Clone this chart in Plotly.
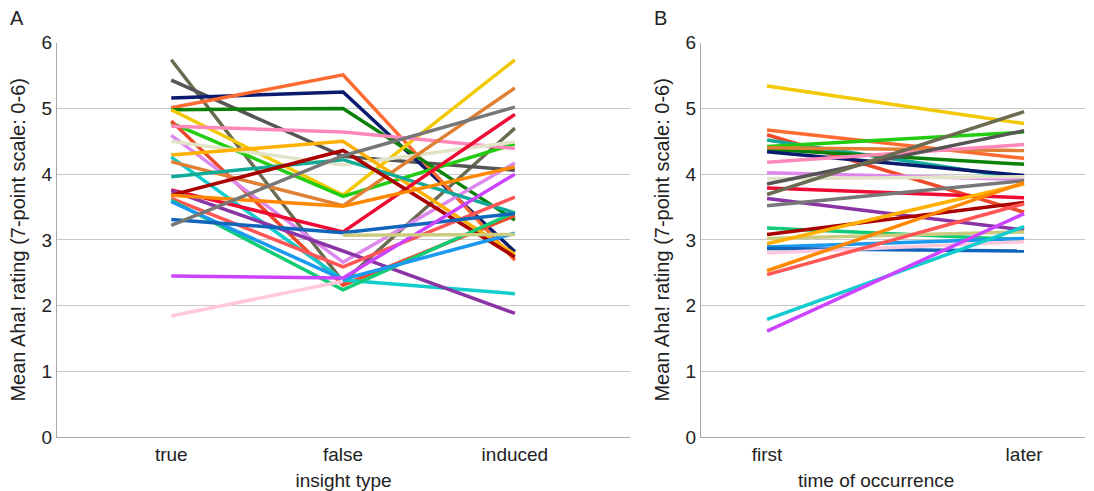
import plotly.graph_objects as go

# ---------------- data ----------------
insight_types = ["true", "false", "induced"]
occurrence = ["first", "later"]

# Panel A: mean Aha! rating per participant for true / false / induced insights
series_a = {
    "olive":      [5.74, 2.36, 4.70],
    "darkgray":   [5.43, 4.27, 4.06],
    "navy":       [5.16, 5.25, 2.82],
    "orangered":  [5.01, 5.51, 2.69],
    "green":      [4.98, 5.00, 3.30],
    "gold":       [4.98, 3.68, 5.74],
    "lime":       [4.78, 3.66, 4.46],
    "tomato":     [4.81, 2.31, 3.37],
    "pink":       [4.73, 4.64, 4.39],
    "violet":     [4.59, 2.66, 4.17],
    "beige":      [4.50, 4.14, 4.49],
    "amber":      [4.29, 4.50, 2.78],
    "cyan":       [4.26, 2.39, 2.18],
    "peru":       [4.19, 3.52, 5.31],
    "teal":       [3.96, 4.22, 3.41],
    "crimson":    [3.76, 3.12, 4.91],
    "purple":     [3.75, 2.83, 1.88],
    "darkred":    [3.68, 4.36, 2.74],
    "orange":     [3.68, 3.51, 4.11],
    "salmon":     [3.63, 2.59, 3.65],
    "seagreen":   [3.60, 2.24, 3.42],
    "dodger":     [3.58, 2.40, 3.10],
    "steel":      [3.31, 3.11, 3.40],
    "gray":       [3.22, 4.28, 5.02],
    "magenta":    [2.45, 2.42, 4.00],
    "lightpink":  [1.84, 2.37, None],
    "khaki":      [None, 3.07, 3.08],
}

# Panel B: mean Aha! rating for first vs later occurrence
series_b = {
    "gold":       [5.34, 4.77],
    "orangered":  [4.67, 4.24],
    "tomato":     [4.60, 3.42],
    "teal":       [4.52, 3.93],
    "lime":       [4.42, 4.64],
    "green":      [4.38, 4.15],
    "peru":       [4.40, 4.36],
    "navy":       [4.34, 3.98],
    "pink":       [4.18, 4.45],
    "violet":     [4.02, 3.92],
    "beige":      [3.93, 3.96],
    "darkgray":   [3.85, 4.66],
    "crimson":    [3.79, 3.64],
    "olive":      [3.69, 4.95],
    "purple":     [3.63, 3.15],
    "gray":       [3.52, 3.90],
    "seagreen":   [3.18, 3.00],
    "darkred":    [3.08, 3.57],
    "khaki":      [3.02, 3.12],
    "amber":      [2.94, 3.85],
    "dodger":     [2.89, 3.02],
    "steel":      [2.87, 2.83],
    "lightpink":  [2.80, 2.97],
    "orange":     [2.53, 3.87],
    "salmon":     [2.47, 3.55],
    "cyan":       [1.79, 3.20],
    "magenta":    [1.61, 3.40],
}

colors = {
    "olive": "#6b6b52", "darkgray": "#555555", "navy": "#0a1a6e",
    "orangered": "#ff6a30", "green": "#0a820a", "gold": "#f2c800",
    "lime": "#22cc11", "tomato": "#ee4a2a", "pink": "#ff88bb",
    "violet": "#dd88ee", "beige": "#e3e3c8", "amber": "#ffb000",
    "cyan": "#11cccc", "peru": "#e08035", "teal": "#11aa99",
    "crimson": "#ee0a33", "purple": "#8a35a5", "darkred": "#aa0000",
    "orange": "#ff8800", "salmon": "#ff5555", "seagreen": "#11cc77",
    "dodger": "#1a99ee", "steel": "#1166bb", "gray": "#777777",
    "magenta": "#cc44ff", "lightpink": "#ffc8dd", "khaki": "#cccc80",
}

yticks = [0, 1, 2, 3, 4, 5, 6]
ytitle = "Mean Aha! rating (7-point scale: 0-6)"

W, H = 1094, 491
FONT = "Liberation Sans, Arial, sans-serif"
LW = 3.5

fig = go.Figure()
for name, vals in series_a.items():
    fig.add_trace(go.Scatter(x=insight_types, y=vals, mode="lines",
                             line=dict(color=colors[name], width=LW),
                             xaxis="x", yaxis="y", showlegend=False,
                             connectgaps=False))
for name, vals in series_b.items():
    fig.add_trace(go.Scatter(x=occurrence, y=vals, mode="lines",
                             line=dict(color=colors[name], width=LW),
                             xaxis="x2", yaxis="y2", showlegend=False))

ydom = [(H - 437) / H, (H - 42.7) / H]
axis_common = dict(showline=True, linecolor="#a8a8a8", linewidth=1,
                   ticks="", tickfont=dict(size=19, color="#222", family=FONT),
                   automargin=False)

fig.update_layout(
    width=W, height=H,
    margin=dict(l=0, r=0, t=0, b=0),
    paper_bgcolor="white", plot_bgcolor="white",
    font=dict(family=FONT, color="#222"),
    xaxis=dict(domain=[57 / W, 630 / W], type="category",
               categoryorder="array", categoryarray=insight_types,
               range=[-0.665, 2.67], showgrid=False, anchor="y",
               title=dict(text="insight type", font=dict(size=19), standoff=14),
               **axis_common),
    yaxis=dict(domain=ydom, range=[0, 6], tickvals=yticks, anchor="x",
               showgrid=True, gridcolor="#c8c8c8", gridwidth=1,
               zeroline=False,
               title=dict(text=ytitle, font=dict(size=20), standoff=10),
               **axis_common),
    xaxis2=dict(domain=[701 / W, 1085 / W], type="category",
                categoryorder="array", categoryarray=occurrence,
                range=[-0.257, 1.237], showgrid=False, anchor="y2",
                **axis_common),
    yaxis2=dict(domain=ydom, range=[0, 6], tickvals=yticks, anchor="x2",
                showgrid=True, gridcolor="#c8c8c8", gridwidth=1,
                zeroline=False,
                title=dict(text=ytitle, font=dict(size=20), standoff=10),
                **axis_common),
    annotations=[
        dict(text="A", x=8 / W, y=(H - 18) / H, xref="paper", yref="paper",
             xanchor="left", yanchor="middle", showarrow=False,
             font=dict(size=20, color="#222", family=FONT)),
        dict(text="B", x=652 / W, y=(H - 18) / H, xref="paper", yref="paper",
             xanchor="left", yanchor="middle", showarrow=False,
             font=dict(size=20, color="#222", family=FONT)),
        dict(text="time of occurrence", x=876 / W, y=(H - 480) / H,
             xref="paper", yref="paper", xanchor="center", yanchor="middle",
             showarrow=False, font=dict(size=19, color="#222", family=FONT)),
    ],
)

fig.write_html("out.html", config={"displayModeBar": False},
               post_script="document.body.style.margin='0';document.body.style.overflow='hidden';")
